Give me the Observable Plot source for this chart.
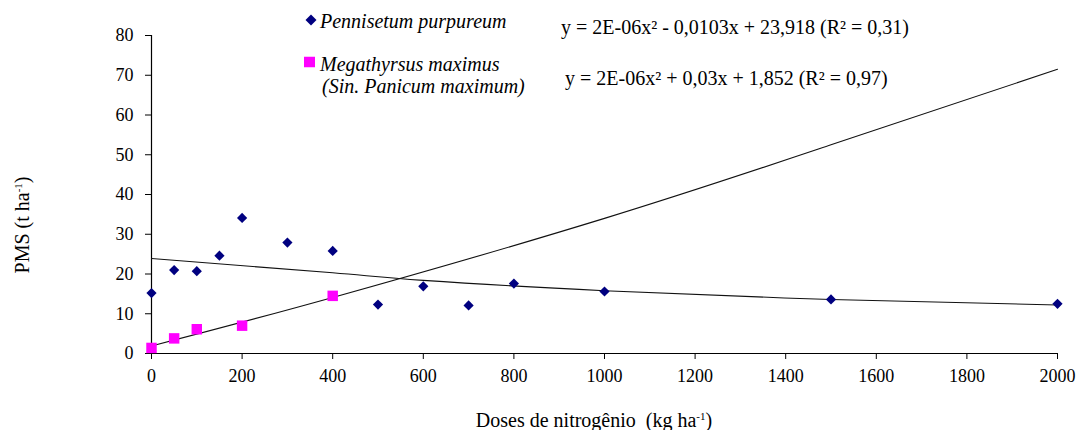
<!DOCTYPE html>
<html>
<head>
<meta charset="utf-8">
<script src="https://cdn.jsdelivr.net/npm/d3@7"></script>
<script src="https://cdn.jsdelivr.net/npm/@observablehq/plot@0.6"></script>
<style>
  body { margin: 0; background: #fff; }
  #wrap { position: relative; width: 1078px; height: 430px; font-family: "Liberation Serif", serif; color: #000; }
  #wrap svg, #wrap svg text { font-family: "Liberation Serif", serif !important; }
  .lbl { position: absolute; white-space: nowrap; font-size: 20px; line-height: 22px; transform: translateY(-50%); font-family: "Liberation Serif", serif; }
  .it { font-style: italic; }
  sup { font-size: 11px; vertical-align: 7px; line-height: 0; }
</style>
</head>
<body>
<div id="wrap"></div>
<script>
// Data
const doses = [0, 50, 100, 150, 200, 300, 400, 500, 600, 700, 800, 1000, 1500, 2000];
const pennisetum = [15.2, 21.0, 20.7, 24.6, 34.1, 27.9, 25.8, 12.3, 16.9, 12.1, 17.6, 15.6, 13.6, 12.5];
const megaDoses = [0, 50, 100, 200, 400];
const megathyrsus = [1.4, 3.8, 6.1, 7.0, 14.5];
// Trend curves
const trendPennX = [0, 400, 600, 1000, 1500, 2000];
const trendPennY = [23.9, 20.3, 18.4, 15.8, 13.6, 12.2];
const trendMegaX = [0, 400, 1000, 1500, 2000];
const trendMegaY = [1.9, 14.1, 34.0, 52.5, 71.5];
const xTicks = [0, 200, 400, 600, 800, 1000, 1200, 1400, 1600, 1800, 2000];
const yTicks = [0, 10, 20, 30, 40, 50, 60, 70, 80];

const pennData = doses.map((d, i) => ({x: d, y: pennisetum[i]}));
const megaData = megaDoses.map((d, i) => ({x: d, y: megathyrsus[i]}));
const tPenn = trendPennX.map((d, i) => ({x: d, y: trendPennY[i]}));
const tMega = trendMegaX.map((d, i) => ({x: d, y: trendMegaY[i]}));

const chart = Plot.plot({
  width: 1078,
  height: 430,
  marginLeft: 151,
  marginRight: 21,
  marginTop: 35,
  marginBottom: 77,
  style: {fontFamily: "Liberation Serif", fontSize: "18px", color: "#000", background: "#fff", overflow: "visible"},
  x: {domain: [0, 2000]},
  y: {domain: [0, 80]},
  marks: [
    Plot.axisY({ticks: yTicks, tickSize: 6, tickPadding: 12, tickFormat: d => String(d), label: null, stroke: "#000"}),
    Plot.axisX({ticks: xTicks, tickSize: 6, tickPadding: 10, tickFormat: d => String(d), label: null, stroke: "#000"}),
    Plot.ruleX([0], {y1: 0, y2: 80, stroke: "#000", strokeWidth: 1.2}),
    Plot.ruleY([0], {stroke: "#000", strokeWidth: 1.2}),
    Plot.line(tPenn, {x: "x", y: "y", curve: "natural", stroke: "#111", strokeWidth: 1.1}),
    Plot.line(tMega, {x: "x", y: "y", curve: "natural", stroke: "#111", strokeWidth: 1.1}),
    Plot.dot(pennData, {x: "x", y: "y", symbol: "diamond2", r: 4.6, fill: "#000080", stroke: "none"}),
    Plot.dot(megaData, {x: "x", y: "y", symbol: "square", r: 5.9, fill: "#ff00ff", stroke: "none"})
  ]
});

const wrap = document.getElementById("wrap");
wrap.appendChild(chart);

function addLabel(html, left, top, cls) {
  const d = document.createElement("div");
  d.className = "lbl " + (cls || "");
  d.style.left = left + "px";
  d.style.top = top + "px";
  d.innerHTML = html;
  wrap.appendChild(d);
  return d;
}

// Legend
addLabel('<svg width="12" height="12" style="vertical-align:-1px;display:block"><path d="M6,0.5L11.5,6L6,11.5L0.5,6Z" fill="#000080"/></svg>', 305, 20);
addLabel("Pennisetum purpureum", 320, 21, "it");
addLabel('<svg width="11" height="11" style="display:block"><rect x="0" y="0" width="11" height="11" fill="#ff00ff"/></svg>', 304, 62);
addLabel("Megathyrsus maximus", 320, 64, "it");
addLabel("(Sin. Panicum maximum)", 322, 86, "it");

// Equations
addLabel("y = 2E-06x² - 0,0103x + 23,918 (R² = 0,31)", 561, 27);
addLabel("y = 2E-06x² + 0,03x + 1,852 (R² = 0,97)", 565, 78);

// Axis titles
const xt = addLabel("Doses de nitrogênio&nbsp; (kg ha<sup>-1</sup>)", 594, 420);
xt.style.transform = "translate(-50%,-50%)";
const yt = addLabel("PMS (t ha<sup>-1</sup>)", 22, 225);
yt.style.transform = "translate(-50%,-50%) rotate(-90deg)";
</script>
</body>
</html>
